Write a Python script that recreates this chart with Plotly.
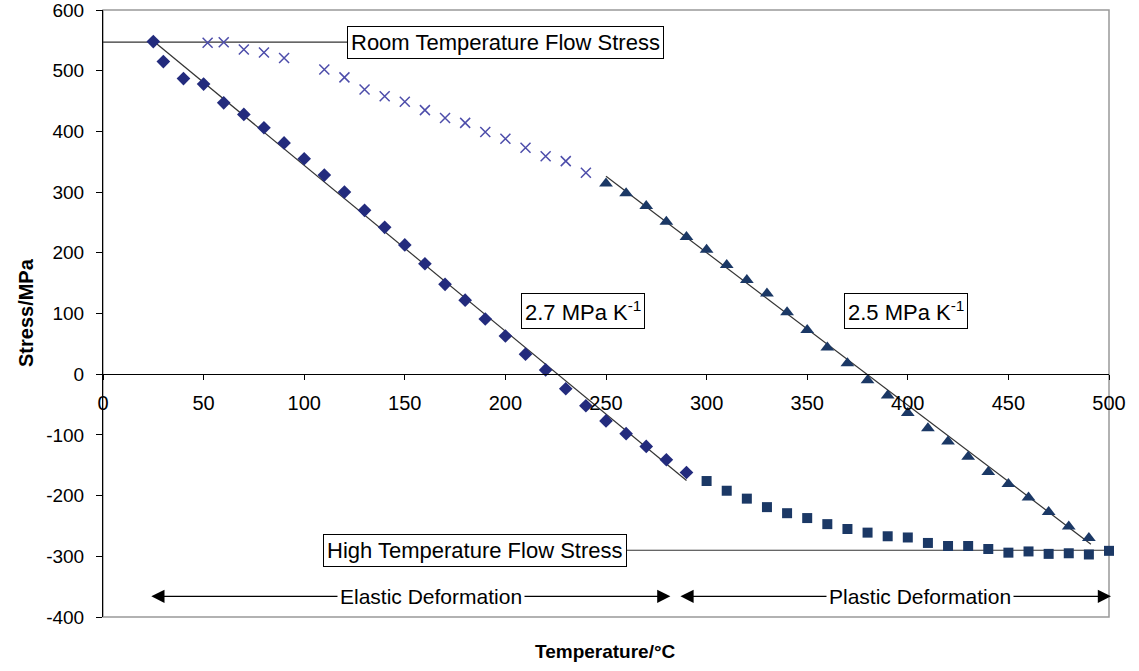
import plotly.graph_objects as go

# ---- data ----
elastic_T = [25, 30, 40, 50, 60, 70, 80, 90, 100, 110, 120, 130, 140, 150, 160, 170, 180, 190,
             200, 210, 220, 230, 240, 250, 260, 270, 280, 290]
elastic_S = [548, 515, 487, 478, 447, 428, 406, 381, 355, 328, 300, 270, 242, 213, 182, 148, 122, 91,
             63, 33, 7, -24, -52, -77, -98, -119, -141, -162]

cross_T = [52, 60, 70, 80, 90, 110, 120, 130, 140, 150, 160, 170, 180, 190, 200, 210, 220, 230, 240]
cross_S = [546, 547, 535, 530, 521, 502, 489, 469, 458, 449, 435, 422, 414, 399, 388, 373, 359, 351, 332]

tri_T = [250, 260, 270, 280, 290, 300, 310, 320, 330, 340, 350, 360, 370, 380, 390, 400, 410, 420,
         430, 440, 450, 460, 470, 480, 490]
tri_S = [314, 298, 277, 251, 226, 205, 180, 155, 133, 102, 73, 44, 18, -10, -35, -64, -89, -111,
         -136, -161, -181, -203, -227, -251, -270]

sq_T = [300, 310, 320, 330, 340, 350, 360, 370, 380, 390, 400, 410, 420, 430, 440, 450, 460, 470, 480, 490, 500]
sq_S = [-176, -192, -205, -219, -229, -237, -247, -255, -261, -267, -269, -278, -283, -283, -288, -294,
        -292, -296, -295, -297, -291]

fit1_T = [25, 290]
fit1_S = [549, -175]
fit2_T = [250, 491]
fit2_S = [326, -280]

room_T = [0, 150]
room_S = [547, 547]
high_T = [200, 500]
high_S = [-290, -290]

x_ticks = [0, 50, 100, 150, 200, 250, 300, 350, 400, 450, 500]
y_ticks = [-400, -300, -200, -100, 0, 100, 200, 300, 400, 500, 600]
y_tick_text = [str(v) for v in y_ticks]

FONT = "Arial, Liberation Sans, sans-serif"
L, R, T, B, W, H = 103, 30, 10, 54, 1139, 671
PW, PH = W - L - R, H - T - B


def px_x(px):
    return (px - L) / PW


def px_y(py):
    return (H - B - py) / PH


fig = go.Figure()

line_style = dict(color="#333333", width=1.2)
fig.add_trace(go.Scatter(x=room_T, y=room_S, mode="lines", line=line_style, showlegend=False))
fig.add_trace(go.Scatter(x=high_T, y=high_S, mode="lines", line=line_style, showlegend=False))
fig.add_trace(go.Scatter(x=fit1_T, y=fit1_S, mode="lines", line=line_style, showlegend=False))
fig.add_trace(go.Scatter(x=fit2_T, y=fit2_S, mode="lines", line=line_style, showlegend=False))

fig.add_trace(go.Scatter(x=elastic_T, y=elastic_S, mode="markers", showlegend=False,
                         marker=dict(symbol="diamond", size=10.5, color="#232B7D"), cliponaxis=False))
fig.add_trace(go.Scatter(x=cross_T, y=cross_S, mode="markers", showlegend=False,
                         marker=dict(symbol="x-thin", size=10, color="#4D4DAA",
                                     line=dict(color="#4D4DAA", width=1.5)), cliponaxis=False))
fig.add_trace(go.Scatter(x=tri_T, y=tri_S, mode="markers", showlegend=False,
                         marker=dict(symbol="triangle-up", size=12, color="#1B3865"), cliponaxis=False))
fig.add_trace(go.Scatter(x=sq_T, y=sq_S, mode="markers", showlegend=False,
                         marker=dict(symbol="square", size=10, color="#1B3865"), cliponaxis=False))

box = dict(bgcolor="white", bordercolor="black", borderwidth=1, borderpad=3,
           font=dict(family=FONT, size=22, color="black"), showarrow=False)
annos = [
    dict(x=200, y=547, text="Room Temperature Flow Stress", **box),
    dict(x=185, y=-291, text="High Temperature Flow Stress", **box),
    dict(x=238.5, y=104, text="2.7 MPa K<sup>-1</sup>", **box),
    dict(x=399, y=104, text="2.5 MPa K<sup>-1</sup>", **box),
]
# double-headed arrows
for x0, x1 in [(24, 282), (287, 501)]:
    for xs, xe in [(x0, x1), (x1, x0)]:
        annos.append(dict(x=xe, y=-366, ax=(xs + xe) / 2, ay=-366, axref="x", ayref="y",
                          xref="x", yref="y", text="", showarrow=True, arrowhead=2,
                          arrowsize=2.4, arrowwidth=1.1, arrowcolor="black", standoff=0))
lbl = dict(bgcolor="white", font=dict(family=FONT, size=21, color="black"), showarrow=False, borderpad=2)
annos.append(dict(x=163, y=-366, text="Elastic Deformation", **lbl))
annos.append(dict(x=406, y=-366, text="Plastic Deformation", **lbl))
# axis titles
annos.append(dict(x=px_x(605), y=px_y(652), xref="paper", yref="paper", xanchor="center",
                  yanchor="middle", text="<b>Temperature/°C</b>", showarrow=False,
                  font=dict(family=FONT, size=19, color="black")))
annos.append(dict(x=px_x(26), y=px_y(313), xref="paper", yref="paper", xanchor="center",
                  yanchor="middle", text="<b>Stress/MPa</b>", textangle=-90, showarrow=False,
                  font=dict(family=FONT, size=20, color="black")))

fig.update_layout(
    width=W, height=H,
    margin=dict(l=L, r=R, t=T, b=B),
    plot_bgcolor="white", paper_bgcolor="white",
    annotations=annos,
    shapes=[dict(type="rect", xref="paper", yref="paper", x0=0, x1=1, y0=0, y1=1,
                 line=dict(color="#999999", width=1.5), layer="below")],
    xaxis=dict(range=[0, 500], tickvals=x_ticks, showgrid=False, zeroline=False, automargin=False,
               showline=True, linecolor="black", linewidth=1, ticks="outside", ticklen=5,
               tickcolor="black", anchor="free", position=0.4, ticklabelstandoff=6,
               ticklabeloverflow="allow",
               tickfont=dict(family=FONT, size=20, color="black")),
    yaxis=dict(range=[-400, 600], tickvals=y_ticks, ticktext=y_tick_text, showgrid=False,
               zeroline=False, automargin=False, ticklabeloverflow="allow",
               showline=True, linecolor="black", linewidth=1, ticks="outside", ticklen=6,
               tickcolor="black", ticklabelstandoff=8,
               tickfont=dict(family=FONT, size=19, color="black")),
)

fig.write_html("out.html")
